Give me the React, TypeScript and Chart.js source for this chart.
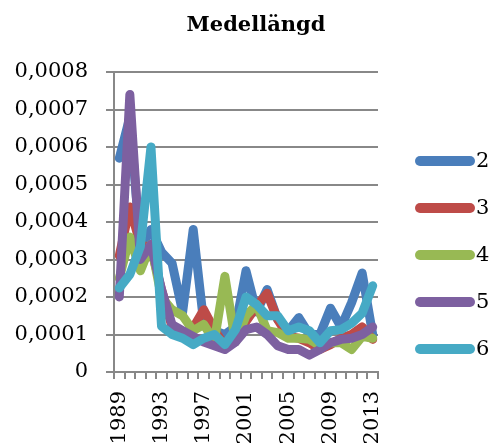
import React, { useEffect, useRef } from "react";
import { Chart, registerables } from "chart.js";

Chart.register(...registerables);

const years = [
  "1989", "1990", "1991", "1992", "1993", "1994", "1995", "1996", "1997",
  "1998", "1999", "2000", "2001", "2002", "2003", "2004", "2005", "2006",
  "2007", "2008", "2009", "2010", "2011", "2012", "2013",
];

const series2 = [
  0.00057, 0.00068, 0.00033, 0.00038, 0.00032, 0.00029, 0.00016, 0.00038, 0.00013,
  0.00011, 0.0001, 0.00012, 0.00027, 0.00016, 0.00022, 0.00014, 0.00011, 0.000145,
  0.0001, 0.0001, 0.00017, 0.00012, 0.000185, 0.000264, 0.0001,
];
const series3 = [
  0.00031, 0.00044, 0.00034, 0.00033, 0.00022, 0.00012, 0.0001, 0.000118, 0.000166,
  0.000113, 0.00007, 0.000087, 0.000135, 0.000175, 0.00021, 0.00014, 0.000095, 0.00009,
  0.000078, 0.00006, 0.000073, 0.00009, 0.0001, 0.00012, 0.000087,
];
const series4 = [
  0.00025, 0.00036, 0.00027, 0.00034, 0.0002, 0.000166, 0.00015, 0.00011, 0.000127,
  0.000082, 0.000255, 0.00008, 0.00015, 0.00018, 0.00011, 0.000105, 0.00009, 0.00009,
  0.000087, 0.00007, 0.000078, 0.000078, 0.00006, 0.000095, 0.00009,
];
const series5 = [
  0.0002, 0.00074, 0.0003, 0.00034, 0.00022, 0.000126, 0.00011, 0.000095, 0.00008,
  0.00007, 0.00006, 0.00008, 0.000113, 0.00012, 0.0001, 0.00007, 0.00006, 0.00006,
  0.000045, 0.00006, 0.000078, 0.000087, 0.00009, 0.0001, 0.00012,
];
const series6 = [
  0.000224, 0.00026, 0.000335, 0.0006, 0.000122, 0.0001, 0.00009, 0.000073, 0.00009,
  0.0001, 0.000073, 0.000113, 0.0002, 0.00018, 0.00015, 0.00015, 0.00011, 0.00012,
  0.00011, 0.000078, 0.00011, 0.000113, 0.00013, 0.000157, 0.00023,
];

const seriesNames = ["2", "3", "4", "5", "6"];
const seriesValues = [series2, series3, series4, series5, series6];
const seriesColors = ["#4A7EBB", "#BE4B48", "#98B954", "#7D60A0", "#46AAC5"];

const titleText = "Medellängd";
const yMax = 0.0008;
const yStep = 0.0001;
const labelEvery = 4;

const FONT = '"DejaVu Serif", "Liberation Serif", serif';
const GRID = "#888888";

const titlePlugin = {
  id: "customTitle",
  afterDraw(chart: any) {
    const ctx = chart.ctx;
    ctx.save();
    ctx.font = `bold 21px ${FONT}`;
    ctx.fillStyle = "#000";
    ctx.textAlign = "center";
    ctx.textBaseline = "middle";
    ctx.fillText(titleText, 256, 26);
    ctx.restore();
  },
};

const legendPlugin = {
  id: "customLegend",
  afterDraw(chart: any) {
    const ctx = chart.ctx;
    ctx.save();
    chart.data.datasets.forEach((ds: any, i: number) => {
      const y = 161 + i * 47;
      ctx.beginPath();
      ctx.strokeStyle = ds.borderColor;
      ctx.lineWidth = 10;
      ctx.lineCap = "round";
      ctx.moveTo(420, y);
      ctx.lineTo(470, y);
      ctx.stroke();
      ctx.font = `21px ${FONT}`;
      ctx.fillStyle = "#000";
      ctx.textAlign = "left";
      ctx.textBaseline = "middle";
      ctx.fillText(ds.label, 476, y + 1);
    });
    ctx.restore();
  },
};

export default function App() {
  const ref = useRef<HTMLCanvasElement | null>(null);

  useEffect(() => {
    if (!ref.current) return;
    const chart = new Chart(ref.current, {
      type: "line",
      data: {
        labels: years,
        datasets: seriesNames.map((name, i) => ({
          label: name,
          data: seriesValues[i],
          borderColor: seriesColors[i],
          backgroundColor: seriesColors[i],
          borderWidth: 9,
          pointRadius: 0,
          pointHoverRadius: 0,
          tension: 0,
          fill: false,
          borderJoinStyle: "round" as const,
          borderCapStyle: "round" as const,
          order: seriesNames.length - i,
        })),
      },
      options: {
        animation: false,
        responsive: false,
        layout: { padding: { left: 0, right: 115, top: 72, bottom: 0 } },
        plugins: {
          legend: { display: false },
          title: { display: false },
          tooltip: { enabled: false },
        },
        scales: {
          x: {
            offset: true,
            grid: {
              offset: true,
              drawOnChartArea: false,
              drawTicks: true,
              tickLength: 7,
              color: GRID,
              lineWidth: 2,
            },
            border: { display: true, color: GRID, width: 2 },
            ticks: {
              autoSkip: false,
              minRotation: 90,
              maxRotation: 90,
              padding: 12,
              color: "#000",
              font: { family: FONT, size: 21 },
              callback: (_v: any, idx: number) => (idx % labelEvery === 0 ? years[idx] : ""),
            },
            afterFit: (s: any) => {
              s.height = 76;
            },
          },
          y: {
            min: 0,
            max: yMax,
            grid: {
              color: GRID,
              lineWidth: 2,
              tickLength: 8,
            },
            border: { display: true, color: GRID, width: 2 },
            ticks: {
              stepSize: yStep,
              padding: 18,
              color: "#000",
              font: { family: FONT, size: 21 },
              callback: (v: any) => {
                const n = Number(v);
                if (Math.abs(n) < 1e-12) return "0";
                return n.toFixed(4).replace(".", ",");
              },
            },
            afterFit: (s: any) => {
              s.width = 114;
            },
          },
        },
      },
      plugins: [titlePlugin, legendPlugin],
    });
    return () => chart.destroy();
  }, []);

  return (
    <div style={{ position: "absolute", left: 0, top: 0, width: 493, height: 448, background: "#fff" }}>
      <canvas ref={ref} width={493} height={448} style={{ display: "block" }} />
    </div>
  );
}
